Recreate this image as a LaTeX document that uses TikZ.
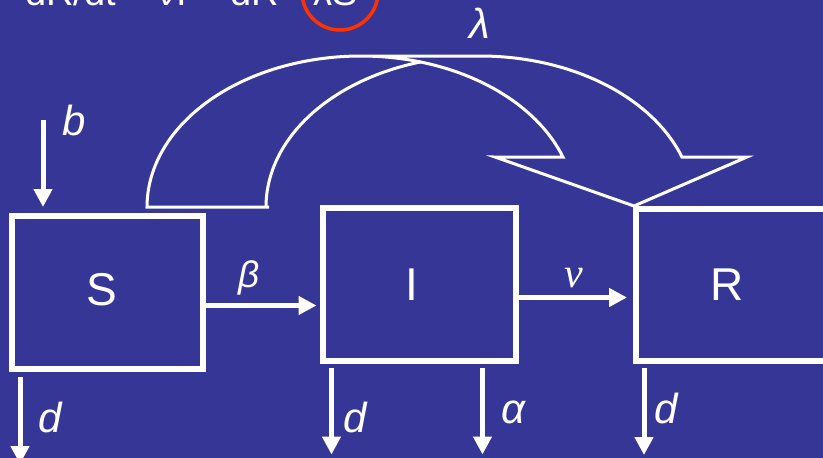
\documentclass[tikz,border=0pt]{standalone}
\usepackage{fontspec}
\setmainfont{Liberation Sans}
\newfontfamily\serifnu{Liberation Serif}
\usetikzlibrary{arrows.meta,calc}
\definecolor{bg}{RGB}{54,54,150}
\definecolor{circred}{RGB}{255,51,0}
\begin{document}
\begin{tikzpicture}[x=1pt,y=-1pt,
  box/.style={draw=white, line width=6pt, minimum width=#1, minimum height=153pt, inner sep=0pt},
  flow/.style={white, line width=5pt, -{Triangle[length=18pt,width=18pt]}},
  lbl/.style={text=white, font=\fontsize{42}{50}\selectfont\itshape, inner sep=0pt, anchor=base},
  big/.style={text=white, font=\fontsize{46}{55}\selectfont, inner sep=0pt, anchor=base},
  toptext/.style={text=white, font=\fontsize{38}{46}\selectfont, inner sep=0pt, anchor=base west},
  curve/.style={white, line width=3pt, line join=miter}]
\useasboundingbox (0,0) rectangle (823,458);
\fill[bg] (0,0) rectangle (823,458);
\clip (0,0) rectangle (823,458);

% top equation (cut off)
\node[toptext] (eq1) at (25,5) {dR/dt =};
\node[toptext] (eq2) at (157,5) {νI −};
\node[toptext] (eq3) at (230,5) {dR −};
\node[toptext] (eq4) at (313,5) {λS};
\draw[circred, line width=3.5pt] (340,-8) circle[radius=38pt];

% boxes
\node[box=191pt] (S) at (107.5,292.5) {};
\node[box=193pt] (I) at (419.5,284.5) {};
\node[box=193pt, minimum height=152pt] (R) at (732.5,285) {};
\node[big] (Sl) at (101.5,305) {S};
\node[big] (Il) at (412,300) {I};
\node[big] (Rl) at (727.5,300) {R};

% flows between compartments
\draw[flow, shorten >=3.5pt] (S.east |- 0,305.5) -- (I.west |- 0,305.5);
\draw[flow, shorten >=6pt] (I.east |- 0,297.5) -- (R.west |- 0,297.5);
\node[lbl, font=\fontsize{37}{44}\selectfont\itshape] (beta) at (249.5,287) {β};
\node[lbl, font=\fontsize{42}{50}\serifnu\itshape] (nu) at (574,287) {ν};

% birth
\coordinate (btop) at (43,120);
\draw[flow, shorten >=6pt] (btop) -- (btop |- S.north);
\node[lbl] (bl) at (74,135) {b};

% deaths
\draw[flow] ([shift={(11,5)}]S.south west) -- ++(0,87);
\draw[flow] ([shift={(11.5,3.5)}]I.south west) -- ++(0,87);
\draw[flow] ([shift={(162.5,3.5)}]I.south west) -- ++(0,87);
\draw[flow] ([shift={(11,4)}]R.south west) -- ++(0,87);
\node[lbl] (dS) at (50.5,432) {d};
\node[lbl] (dI) at (355,432) {d};
\node[lbl] (al) at (513,423) {α};
\node[lbl] (dR) at (666,423) {d};

% curved block arrow S -> R
\draw[curve] (269,207) -- (147,207)
  -- plot[domain=180:19.3, samples=90, variable=\t] ({361+214*cos(\t)}, {207-151*sin(\t)})
  -- (495,157) -- (634,206) -- (747,157) -- (683,157)
  -- plot[domain=19.3:90, samples=60, variable=\t] ({480+214*cos(\t)}, {207-151*sin(\t)})
  -- (361,56);
\draw[curve] plot[domain=180:106.1, samples=60, variable=\t] ({480+214*cos(\t)}, {207-151*sin(\t)});
\node[lbl] (lam) at (480,38) {λ};
\end{tikzpicture}
\end{document}
